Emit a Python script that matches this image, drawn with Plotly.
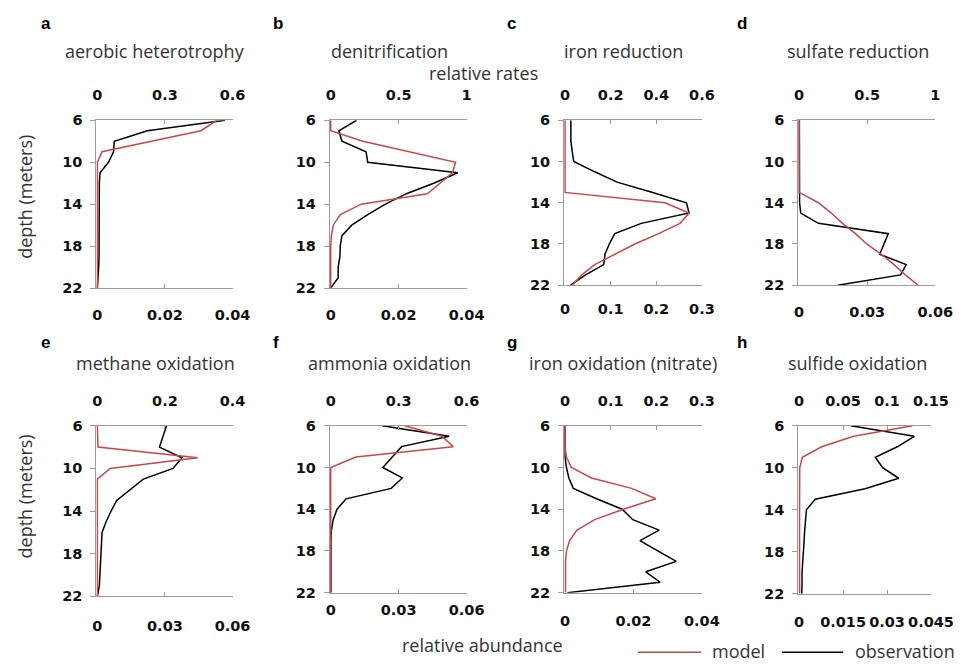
import plotly.graph_objects as go

depth = list(range(6, 23))

letters = ["a", "b", "c", "d", "e", "f", "g", "h"]
titles = ["aerobic heterotrophy", "denitrification", "iron reduction", "sulfate reduction",
          "methane oxidation", "ammonia oxidation", "iron oxidation (nitrate)", "sulfide oxidation"]

# model: relative rates (top axis); observation: relative abundance (bottom axis)
model_a = [0.53, 0.46, 0.24, 0.021, 0, 0, 0, 0, 0, 0, 0, 0, 0, 0, 0, 0, 0]
obs_a = [0.0378, 0.0148, 0.0050, 0.0048, 0.0033, 0.0008, 0.0006, 0.0006, 0.0007, 0.0006, 0.0006, 0.0005, 0.0005, 0.0005, 0.0004, 0.0003, 0.0]
model_b = [0, 0, 0.237, 0.578, 0.919, 0.896, 0.806, 0.711, 0.225, 0.071, 0.019, 0.005, 0, 0, 0, 0, 0]
obs_b = [0.0076, 0.0024, 0.0033, 0.0104, 0.0109, 0.0374, 0.0303, 0.0223, 0.0161, 0.0109, 0.0062, 0.0033, 0.0028, 0.0027, 0.0022, 0.0022, 0.0]
model_c = [0, 0, 0, 0, 0, 0, 0, 0, 0.438, 0.544, 0.504, 0.41, 0.306, 0.215, 0.13, 0.073, 0.031]
obs_c = [0.0127, 0.0127, 0.0127, 0.0155, 0.019, 0.065, 0.114, 0.192, 0.266, 0.272, 0.167, 0.109, 0.097, 0.0875, 0.0847, 0.045, 0.012]
model_d = [0, 0, 0, 0, 0, 0, 0, 0, 0.142, 0.236, 0.319, 0.414, 0.496, 0.603, 0.697, 0.78, 0.875]
obs_d = [0.0001, 0.0001, 0.0001, 0.0001, 0.0001, 0.0001, 0.0001, 0.0001, 0.0002, 0.0007, 0.0085, 0.0393, 0.0374, 0.0355, 0.0472, 0.0447, 0.017]
model_e = [0, 0, 0.002, 0.297, 0.038, 0, 0, 0, 0, 0, 0, 0, 0, 0, 0, 0, 0]
obs_e = [0.0307, 0.0291, 0.0276, 0.0376, 0.0336, 0.0204, 0.0143, 0.0086, 0.0061, 0.0039, 0.0021, 0.0019, 0.0016, 0.0014, 0.0012, 0.0009, 0.0]
model_f = [0.327, 0.491, 0.541, 0.111, 0, 0, 0, 0, 0, 0, 0, 0, 0, 0, 0, 0, 0]
obs_f = [0.0227, 0.0523, 0.0313, 0.0273, 0.023, 0.0316, 0.0267, 0.0068, 0.0028, 0.0011, 0.0003, 0.0001, 0.0001, 0.0001, 0.0001, 0.0001, 0.0001]
model_g = [0, 0, 0, 0.003, 0.014, 0.058, 0.146, 0.199, 0.128, 0.065, 0.026, 0.010, 0.003, 0.001, 0.001, 0.001, 0.001]
obs_g = [0, 0, 0, 0, 0.0004, 0.0011, 0.0024, 0.0092, 0.0167, 0.0198, 0.0275, 0.0219, 0.0271, 0.0325, 0.0236, 0.0278, 0.0007]
model_h = [0.129, 0.062, 0.0256, 0.0037, 0.0007, 0.0005, 0.0005, 0.0005, 0.0005, 0.0005, 0.0005, 0.0005, 0.0005, 0.0005, 0.0005, 0.0005, 0.0005]
obs_h = [0.0176, 0.0393, 0.0335, 0.026, 0.0285, 0.034, 0.0225, 0.0055, 0.0025, 0.0021, 0.0019, 0.0017, 0.0014, 0.0011, 0.0010, 0.0010, 0.0009]

models = [model_a, model_b, model_c, model_d, model_e, model_f, model_g, model_h]
observations = [obs_a, obs_b, obs_c, obs_d, obs_e, obs_f, obs_g, obs_h]

rate_ticks = [["0", "0.3", "0.6"], ["0", "0.5", "1"], ["0", "0.2", "0.4", "0.6"], ["0", "0.5", "1"],
              ["0", "0.2", "0.4"], ["0", "0.3", "0.6"], ["0", "0.1", "0.2", "0.3"], ["0", "0.05", "0.1", "0.15"]]
abund_ticks = [["0", "0.02", "0.04"], ["0", "0.02", "0.04"], ["0", "0.1", "0.2", "0.3"], ["0", "0.03", "0.06"],
               ["0", "0.03", "0.06"], ["0", "0.03", "0.06"], ["0", "0.02", "0.04"], ["0", "0.015", "0.03", "0.045"]]
depth_ticks = [6, 10, 14, 18, 22]
legend_names = ["model", "observation"]

W, H = 979, 670
# panel boxes in pixels: left, right, top, bottom
boxes = [(95, 235, 115, 287), (335, 475.7, 115, 287), (576, 717.7, 115, 284), (816.7, 957.7, 115, 284),
         (95, 235, 428, 602.7), (335, 475.7, 428, 599), (576, 717.7, 428, 599), (816.7, 953.3, 428, 600)]
bottom_standoff = [13, 13, 10, 13, 16, 4, 15, 15]

RED = "#c8484a"
GRAY = "#9c9c9c"
TICKFONT = dict(family="DejaVu Sans", size=14.5, color="#111111", weight="bold")
TXTFONT = dict(family="Open Sans", size=18, color="#333333")

fig = go.Figure()
layout = {}
annotations = []
for i in range(8):
    xb = f"x{2*i+1}"
    xt = f"x{2*i+2}"
    yy = f"y{i+1}"
    L, R, T, B = boxes[i]
    dom_x = [L / W, R / W]
    dom_y = [1 - B / H, 1 - T / H]
    rvals = [float(t) for t in rate_ticks[i]]
    avals = [float(t) for t in abund_ticks[i]]
    rmax, amax = rvals[-1], avals[-1]
    fig.add_trace(go.Scatter(x=observations[i], y=depth, xaxis=xb, yaxis=yy, mode="lines",
                             line=dict(color="black", width=1.5), name="observation",
                             showlegend=False))
    fig.add_trace(go.Scatter(x=models[i], y=depth, xaxis=xt, yaxis=yy, mode="lines",
                             line=dict(color=RED, width=1.5), name="model",
                             showlegend=False))
    layout["xaxis" + ("" if i == 0 else str(2*i+1))] = dict(
        domain=dom_x, anchor=yy, range=[-0.007 * amax, amax], tickvals=avals, ticktext=abund_ticks[i],
        showline=True, linecolor=GRAY, linewidth=1, ticks="inside", ticklen=4, tickcolor=GRAY,
        showgrid=False, zeroline=False, tickfont=TICKFONT, ticklabelstandoff=bottom_standoff[i])
    layout["xaxis" + str(2*i+2)] = dict(
        domain=dom_x, anchor=yy, overlaying=xb, side="top", range=[-0.007 * rmax, rmax],
        tickvals=rvals, ticktext=rate_ticks[i],
        showline=True, linecolor=GRAY, linewidth=1, ticks="inside", ticklen=4, tickcolor=GRAY,
        showgrid=False, zeroline=False, tickfont=TICKFONT, ticklabelstandoff=13)
    layout["yaxis" + ("" if i == 0 else str(i+1))] = dict(
        domain=dom_y, anchor=xb, range=[22, 6], tickvals=depth_ticks,
        showline=True, linecolor=GRAY, linewidth=1, ticks="outside", ticklen=5, tickcolor=GRAY,
        showgrid=False, zeroline=False, tickfont=TICKFONT, ticklabelstandoff=5)
    col = i % 4
    row = i // 4
    title_cx = [155.5, 396.5, 637, 878][col]
    title_cy = [44, 364][row]
    annotations.append(dict(text=titles[i], x=title_cx / W, y=1 - title_cy / H, xref="paper", yref="paper",
                            showarrow=False, font=TXTFONT, xanchor="center", yanchor="middle"))
    lx = [36, 275, 515, 752][col]
    ly = [16, 343][row]
    annotations.append(dict(text=letters[i], x=lx / W, y=1 - ly / H, xref="paper", yref="paper",
                            showarrow=False, font=dict(family="Liberation Sans, Arial", size=17,
                                                       color="black", weight="bold"),
                            xanchor="left", yanchor="middle"))

for cy in [193, 500]:
    annotations.append(dict(text="depth (meters)", x=22 / W, y=1 - cy / H, xref="paper", yref="paper",
                            showarrow=False, textangle=-90, font=TXTFONT, xanchor="center", yanchor="middle"))
annotations.append(dict(text="relative rates", x=493.5 / W, y=1 - 67 / H, xref="paper", yref="paper",
                        showarrow=False, font=TXTFONT, xanchor="center", yanchor="middle"))
annotations.append(dict(text="relative abundance", x=492 / W, y=1 - 653 / H, xref="paper", yref="paper",
                        showarrow=False, font=TXTFONT, xanchor="center", yanchor="middle"))

# legend keys (layout decoration) and labels
shapes = []
for (x0, x1, tx), col_, name in zip([(652, 717, 726), (800, 863, 873)], [RED, "black"], legend_names):
    shapes.append(dict(type="line", xref="paper", yref="paper", x0=x0 / W, x1=x1 / W,
                       y0=1 - 660 / H, y1=1 - 660 / H, line=dict(color=col_, width=1.5)))
    annotations.append(dict(text=name, x=tx / W, y=1 - 659 / H, xref="paper", yref="paper",
                            showarrow=False, font=TXTFONT, xanchor="left", yanchor="middle"))

fig.update_layout(
    width=W, height=H, margin=dict(l=0, r=0, t=0, b=0),
    paper_bgcolor="white", plot_bgcolor="white",
    annotations=annotations, shapes=shapes, showlegend=False,
    **layout)

fig.write_html("out.html")
